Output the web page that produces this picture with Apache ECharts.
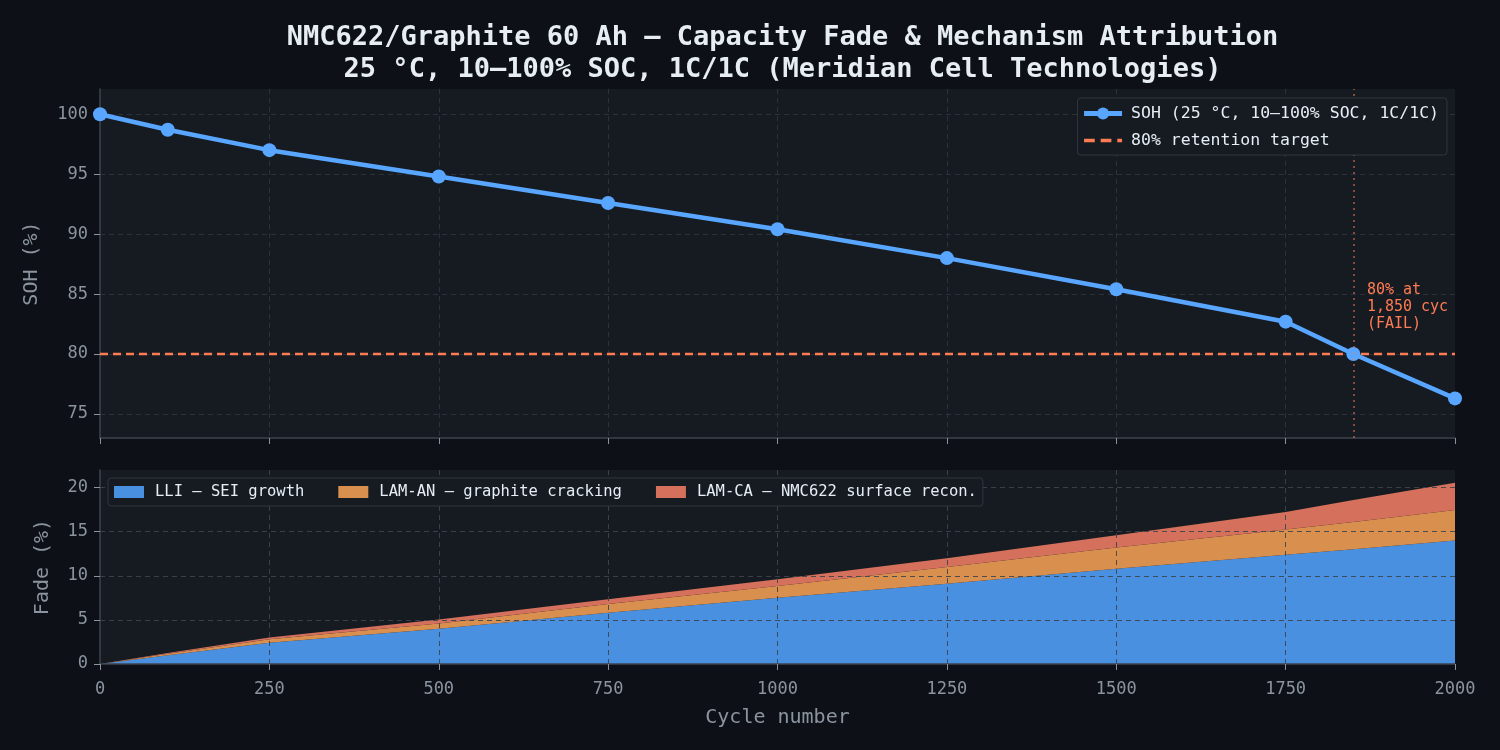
<!DOCTYPE html>
<html>
<head>
<meta charset="utf-8">
<script src="https://cdn.jsdelivr.net/npm/echarts@6/dist/echarts.min.js"></script>
<style>
  html, body { margin: 0; padding: 0; background: #0d1117; }
  #chart { width: 1500px; height: 750px; }
</style>
</head>
<body>
<div id="chart"></div>
<script>
// cycle checkpoints
const cycles = [0, 100, 250, 500, 750, 1000, 1250, 1500, 1750, 1850, 2000];
// state of health, %
const soh = [100, 98.7, 97.0, 94.8, 92.6, 90.4, 88.0, 85.4, 82.7, 80.0, 76.3];
// fade attribution, % (stacked)
const fadeLLI = [0, 1.0, 2.4, 4.0, 5.8, 7.5, 9.1, 10.8, 12.4, 13.0, 14.0];
const fadeLAMAN = [0, 0.15, 0.4, 0.6, 1.0, 1.35, 1.9, 2.4, 2.85, 3.1, 3.45];
const fadeLAMCA = [0, 0.1, 0.2, 0.45, 0.55, 0.75, 1.0, 1.4, 2.0, 2.5, 3.1];
const targetSOH = 80;
const failCycle = 1850;

const FONT = 'DejaVu Sans Mono';
const sohName = 'SOH (25 °C, 10–100% SOC, 1C/1C)';
const targetName = '80% retention target';
const lliName = 'LLI — SEI growth';
const anName = 'LAM-AN — graphite cracking';
const caName = 'LAM-CA — NMC622 surface recon.';

const pairs = (ys) => cycles.map((c, i) => [c, ys[i]]);
// value first so the stack is done on the fade value, not on the cycle
const stackPairs = (ys) => cycles.map((c, i) => [ys[i], c]);

const axisGray = '#8b949e';
const topSplit = { show: true, showMinLine: false, showMaxLine: false, lineStyle: { color: '#2b3139', type: [5, 4], width: 1 } };
const botSplit = { show: true, showMinLine: false, showMaxLine: false, lineStyle: { color: 'rgba(62,68,76,0.9)', type: [5, 4], width: 1 } };
const noComma = (v) => String(v);

const myChart = echarts.init(document.getElementById('chart'));
const option = {
  backgroundColor: '#0d1117',
  animation: false,
  title: {
    text: 'NMC622/Graphite 60 Ah — Capacity Fade & Mechanism Attribution\n25 °C, 10–100% SOC, 1C/1C (Meridian Cell Technologies)',
    left: 777.5,
    textAlign: 'center',
    top: 17,
    textStyle: { color: '#e6edf3', fontFamily: FONT, fontSize: 27, fontWeight: 'bold', lineHeight: 32, align: 'center' }
  },
  legend: [
    {
      data: [
        { name: sohName, lineStyle: { width: 5 } },
        { name: targetName, icon: 'path://M0,0h9v3h-9z M14,0h9v3h-9z M28,0h4v3h-4z' }
      ],
      orient: 'vertical',
      right: 53,
      top: 98,
      z: 10,
      itemWidth: 38,
      itemHeight: 15,
      itemGap: 10,
      padding: [7, 8, 6, 4],
      backgroundColor: '#161b22',
      borderColor: '#30363d',
      borderWidth: 1,
      borderRadius: 3,
      textStyle: { color: '#e6edf3', fontFamily: FONT, fontSize: 16.5, padding: [0, 0, 0, 4] }
    },
    {
      data: [lliName, anName, caName],
      left: 108,
      top: 478,
      z: 10,
      icon: 'rect',
      itemWidth: 30,
      itemHeight: 12,
      itemGap: 34,
      padding: [6, 6, 6, 6],
      backgroundColor: '#161b22',
      borderColor: '#30363d',
      borderWidth: 1,
      borderRadius: 3,
      textStyle: { color: '#e6edf3', fontFamily: FONT, fontSize: 15.5, padding: [0, 0, 0, 6] }
    }
  ],
  grid: [
    { left: 100, right: 45, top: 89, height: 349, show: true, backgroundColor: '#161b22', borderWidth: 0 },
    { left: 100, right: 45, top: 470, height: 194, show: true, backgroundColor: '#161b22', borderWidth: 0 }
  ],
  xAxis: [
    {
      type: 'value', gridIndex: 0, min: 0, max: 2000, interval: 250,
      axisLine: { show: true, lineStyle: { color: '#3d444d', width: 1.5 } },
      axisTick: { show: true, length: 6, lineStyle: { color: axisGray } },
      axisLabel: { show: false },
      splitLine: topSplit
    },
    {
      type: 'value', gridIndex: 1, min: 0, max: 2000, interval: 250, z: 5,
      name: 'Cycle number', nameLocation: 'middle', nameGap: 44,
      nameTextStyle: { color: axisGray, fontFamily: FONT, fontSize: 20 },
      axisLine: { show: true, lineStyle: { color: '#3d444d', width: 1.5 } },
      axisTick: { show: true, length: 6, lineStyle: { color: axisGray } },
      axisLabel: { color: axisGray, fontFamily: FONT, fontSize: 17, margin: 17, formatter: noComma },
      splitLine: botSplit
    }
  ],
  yAxis: [
    {
      type: 'value', gridIndex: 0, min: 73, max: 102.1, splitNumber: 5,
      name: 'SOH (%)', nameLocation: 'middle', nameGap: 58,
      nameTextStyle: { color: axisGray, fontFamily: FONT, fontSize: 20 },
      axisLine: { show: true, lineStyle: { color: '#3d444d', width: 1.5 } },
      axisTick: { show: true, length: 6, lineStyle: { color: axisGray } },
      axisLabel: { color: axisGray, fontFamily: FONT, fontSize: 17, margin: 12, showMinLabel: false, showMaxLabel: false },
      splitLine: topSplit
    },
    {
      type: 'value', gridIndex: 1, min: 0, max: 22, interval: 5, z: 5,
      name: 'Fade (%)', nameLocation: 'middle', nameGap: 47,
      nameTextStyle: { color: axisGray, fontFamily: FONT, fontSize: 20 },
      axisLine: { show: true, lineStyle: { color: '#3d444d', width: 1.5 } },
      axisTick: { show: true, length: 6, lineStyle: { color: axisGray } },
      axisLabel: { color: axisGray, fontFamily: FONT, fontSize: 17, margin: 12, showMaxLabel: false },
      splitLine: botSplit
    }
  ],
  series: [
    {
      name: targetName,
      type: 'line',
      xAxisIndex: 0, yAxisIndex: 0,
      data: [[0, targetSOH], [2000, targetSOH]],
      symbol: 'none',
      z: 2,
      lineStyle: { color: '#ff7b54', width: 2.5, type: [8, 5] },
      itemStyle: { color: '#ff7b54' },
      markLine: {
        silent: true,
        symbol: 'none',
        label: { show: false },
        lineStyle: { color: 'rgba(255,123,84,0.65)', type: [2, 4], width: 1.5 },
        data: [{ xAxis: failCycle }]
      },
      markPoint: {
        silent: true,
        symbol: 'circle',
        symbolSize: 1,
        itemStyle: { color: 'rgba(0,0,0,0)' },
        label: {
          show: true,
          position: 'right',
          distance: 13,
          formatter: '80% at\n1,850 cyc\n(FAIL)',
          color: '#ff7b54',
          fontFamily: FONT,
          fontSize: 15,
          lineHeight: 17,
          align: 'left',
          verticalAlign: 'middle'
        },
        data: [{ coord: [failCycle, 83.9] }]
      }
    },
    {
      name: sohName,
      type: 'line',
      xAxisIndex: 0, yAxisIndex: 0,
      data: pairs(soh),
      symbol: 'circle',
      symbolSize: 14,
      z: 3,
      lineStyle: { color: '#58a6ff', width: 4.5 },
      itemStyle: { color: '#58a6ff' }
    },
    {
      name: lliName,
      type: 'line',
      xAxisIndex: 1, yAxisIndex: 1,
      stack: 'fade',
      encode: { x: 1, y: 0 },
      data: stackPairs(fadeLLI),
      symbol: 'none',
      lineStyle: { width: 0 },
      itemStyle: { color: '#4a90e0' },
      areaStyle: { color: '#4a90e0', opacity: 1 }
    },
    {
      name: anName,
      type: 'line',
      xAxisIndex: 1, yAxisIndex: 1,
      stack: 'fade',
      encode: { x: 1, y: 0 },
      data: stackPairs(fadeLAMAN),
      symbol: 'none',
      lineStyle: { width: 0 },
      itemStyle: { color: '#d98f4e' },
      areaStyle: { color: '#d98f4e', opacity: 1 }
    },
    {
      name: caName,
      type: 'line',
      xAxisIndex: 1, yAxisIndex: 1,
      stack: 'fade',
      encode: { x: 1, y: 0 },
      data: stackPairs(fadeLAMCA),
      symbol: 'none',
      lineStyle: { width: 0 },
      itemStyle: { color: '#d4705c' },
      areaStyle: { color: '#d4705c', opacity: 1 }
    }
  ]
};
myChart.setOption(option);
</script>
</body>
</html>
